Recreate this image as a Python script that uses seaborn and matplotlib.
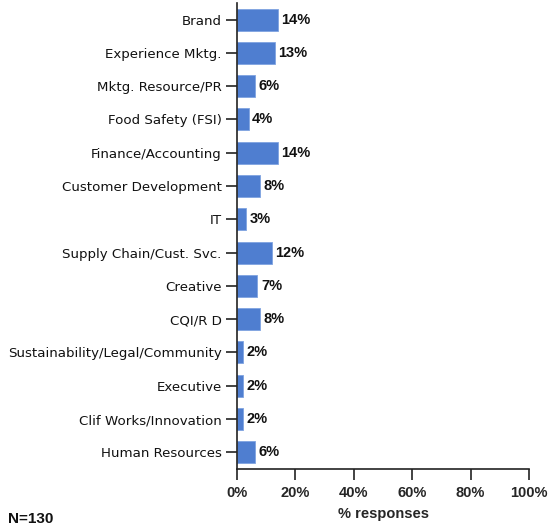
import matplotlib
matplotlib.use("Agg")
import matplotlib.pyplot as plt
import seaborn as sns
import pandas as pd

categories = [
    "Brand", "Experience Mktg.", "Mktg. Resource/PR", "Food Safety (FSI)",
    "Finance/Accounting", "Customer Development", "IT",
    "Supply Chain/Cust. Svc.", "Creative", "CQI/R D",
    "Sustainability/Legal/Community", "Executive",
    "Clif Works/Innovation", "Human Resources",
]
values = [14, 13, 6, 4, 14, 8, 3, 12, 7, 8, 2, 2, 2, 6]
x_ticks = [0, 20, 40, 60, 80, 100]

sns.set_style("white")
plt.rcParams["font.family"] = ["Liberation Sans", "DejaVu Sans"]

df = pd.DataFrame({"dept": categories, "pct": values})

fig = plt.figure(figsize=(5.48, 5.27), dpi=100)
ax = fig.add_axes([0.4325, 0.1101, 0.533, 0.8843])

sns.barplot(data=df, x="pct", y="dept", orient="h", color="#4F7ED0",
            saturation=1, width=0.66, edgecolor="#7FA3E0", linewidth=0.6, ax=ax)

for i, v in enumerate(values):
    ax.text(v + 1.2, i, f"{v}%", va="center", ha="left",
            fontsize=10.5, fontweight="bold", color="#111111")

ax.set_xlim(0, 100)
ax.set_ylim(13.5, -0.5)
ax.set_xticks(x_ticks)
ax.set_xticklabels([f"{t}%" for t in x_ticks], fontsize=10.5, fontweight="bold")
ax.tick_params(axis="x", bottom=True, direction="out", length=8, width=1.2,
               color="#222222", pad=4)
ax.tick_params(axis="y", left=True, direction="out", length=8, width=1.2,
               color="#222222", pad=3)
for lbl in ax.get_yticklabels():
    lbl.set_fontfamily("DejaVu Sans")
    lbl.set_fontsize(9.6)
    lbl.set_color("#111111")
ax.set_ylabel("")
ax.set_xlabel("% responses", fontsize=10.5, fontweight="bold", labelpad=5)

for side in ["top", "right"]:
    ax.spines[side].set_visible(False)
for side in ["left", "bottom"]:
    ax.spines[side].set_color("#222222")
    ax.spines[side].set_linewidth(1.2)

fig.text(0.015, 0.008, "N=130", fontsize=11, fontweight="bold", color="#111111")

fig.savefig("out.png", dpi=100, facecolor="white")
